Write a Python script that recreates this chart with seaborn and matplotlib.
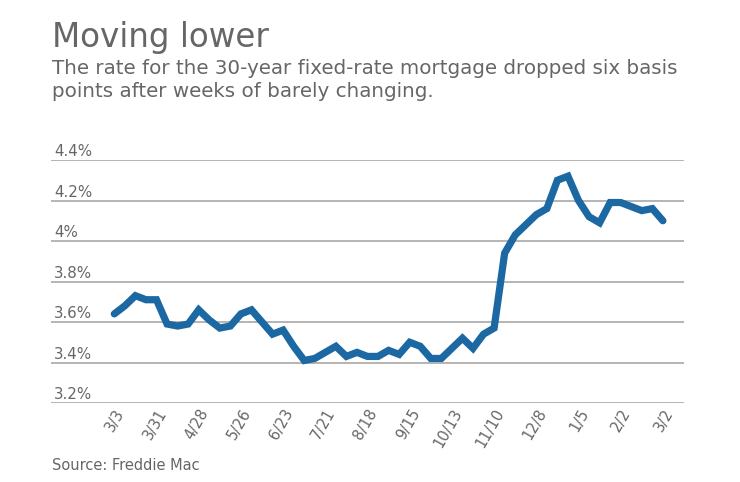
import matplotlib
matplotlib.use("Agg")
import matplotlib.pyplot as plt
import seaborn as sns
import pandas as pd

weeks = ["3/3", "3/10", "3/17", "3/24", "3/31", "4/7", "4/14", "4/21", "4/28",
         "5/5", "5/12", "5/19", "5/26", "6/2", "6/9", "6/16", "6/23", "6/30",
         "7/7", "7/14", "7/21", "7/28", "8/4", "8/11", "8/18", "8/25", "9/1",
         "9/8", "9/15", "9/22", "9/29", "10/6", "10/13", "10/20", "10/27",
         "11/3", "11/10", "11/17", "11/23", "12/1", "12/8", "12/15", "12/22",
         "12/29", "1/5", "1/12", "1/19", "1/26", "2/2", "2/9", "2/16", "2/23", "3/2"]
rates = [3.64, 3.68, 3.73, 3.71, 3.71, 3.59, 3.58, 3.59, 3.66,
         3.61, 3.57, 3.58, 3.64, 3.66, 3.60, 3.54, 3.56, 3.48,
         3.41, 3.42, 3.45, 3.48, 3.43, 3.45, 3.43, 3.43, 3.46,
         3.44, 3.50, 3.48, 3.42, 3.42, 3.47, 3.52, 3.47,
         3.54, 3.57, 3.94, 4.03, 4.08, 4.13, 4.16, 4.30,
         4.32, 4.20, 4.12, 4.09, 4.19, 4.19, 4.17, 4.15, 4.16, 4.10]
tick_labels = ["3/3", "3/31", "4/28", "5/26", "6/23", "7/21", "8/18", "9/15",
               "10/13", "11/10", "12/8", "1/5", "2/2", "3/2"]
tick_index = [0, 4, 8, 12, 16, 20, 24, 28, 32, 36, 40, 44, 48, 52]
y_ticks = [3.2, 3.4, 3.6, 3.8, 4.0, 4.2, 4.4]
y_labels = ["3.2%", "3.4%", "3.6%", "3.8%", "4%", "4.2%", "4.4%"]

title = "Moving lower"
subtitle_lines = ["The rate for the 30-year fixed-rate mortgage dropped six basis",
                  "points after weeks of barely changing."]
source = "Source: Freddie Mac"

sns.set_theme(style="white")
plt.rcParams['font.family'] = ['DejaVu Sans']

df = pd.DataFrame({"idx": range(len(weeks)), "week": weeks, "rate": rates})

W, H = 740, 482
fig = plt.figure(figsize=(W / 100, H / 100), dpi=100)
ax = fig.add_axes([51 / W, 1 - 403 / H, (684 - 51) / W, (403 - 160) / H])

text_color = "#666666"
grid_color = "#b4b4b4"

for y in y_ticks:
    ax.axhline(y, color=grid_color, lw=1.4, zorder=1)

sns.lineplot(data=df, x="idx", y="rate", ax=ax, color="#1c68a3", lw=5.2,
             solid_joinstyle="miter", zorder=3)

ax.set_xlim(-6, 54)
ax.set_ylim(3.2, 4.4)
for s in ax.spines.values():
    s.set_visible(False)
ax.set_xlabel("")
ax.set_ylabel("")
ax.set_yticks([])

ax.set_xticks(tick_index)
ax.set_xticklabels(tick_labels, rotation=60, ha="right", va="top",
                   rotation_mode="anchor", color=text_color, fontsize=10.5)
ax.tick_params(axis="x", length=0, pad=2.5)

for y, lab in zip(y_ticks, y_labels):
    ax.annotate(lab, xy=(0, y), xycoords=("axes fraction", "data"),
                xytext=(3, 4), textcoords="offset pixels",
                ha="left", va="baseline", color=text_color, fontsize=10.8)

fig.text(52 / W, 1 - 47 / H, title, fontsize=23.5, color=text_color,
         ha="left", va="baseline")
for i, line in enumerate(subtitle_lines):
    fig.text(52 / W, 1 - (74 + 23 * i) / H, line, fontsize=14.3,
             color=text_color, ha="left", va="baseline")
fig.text(52 / W, 1 - 470 / H, source, fontsize=10.5, color=text_color,
         ha="left", va="baseline")

fig.savefig("out.png", dpi=100)
